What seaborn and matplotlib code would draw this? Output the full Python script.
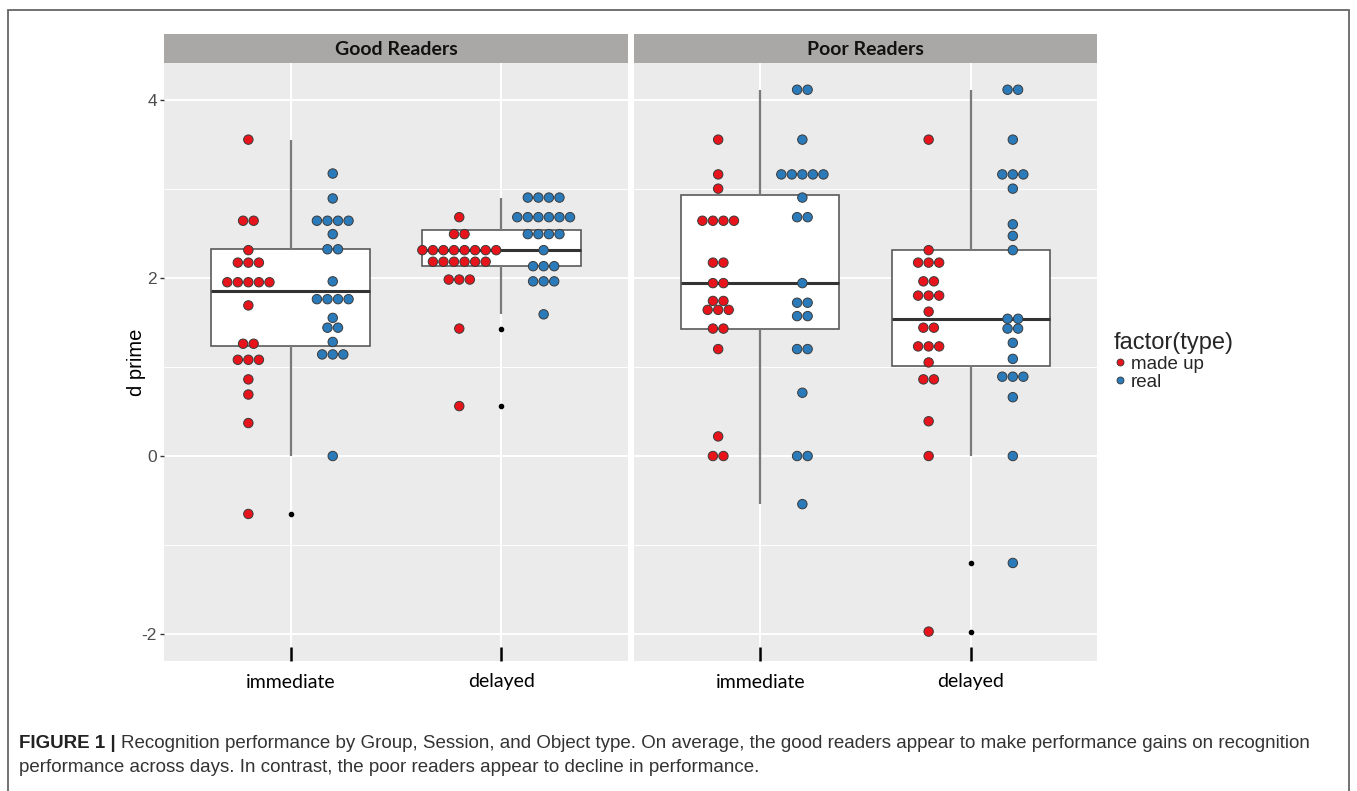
import matplotlib
matplotlib.use("Agg")
import matplotlib.pyplot as plt
import seaborn as sns
import pandas as pd
from collections import Counter
from matplotlib.lines import Line2D
from matplotlib.patches import Rectangle

# Valores de d prime (22 por grupo / sesion / tipo)

good_immediate_madeup = [3.55, 2.64, 2.64, 2.31, 2.17, 2.17, 2.17, 1.95, 1.95, 1.95, 1.95, 1.95,
                         1.69, 1.26, 1.26, 1.08, 1.08, 1.08, 0.86, 0.69, 0.37, -0.65]
good_immediate_real = [3.17, 2.89, 2.64, 2.64, 2.64, 2.64, 2.49, 2.32, 2.32, 1.96, 1.76, 1.76,
                       1.76, 1.76, 1.55, 1.44, 1.44, 1.28, 1.14, 1.14, 1.14, 0.0]
good_delayed_madeup = [2.68, 2.49, 2.49, 2.31, 2.31, 2.31, 2.31, 2.31, 2.31, 2.31, 2.31,
                       2.18, 2.18, 2.18, 2.18, 2.18, 2.18, 1.98, 1.98, 1.98, 1.43, 0.56]
good_delayed_real = [2.90, 2.90, 2.90, 2.90, 2.68, 2.68, 2.68, 2.68, 2.68, 2.68, 2.49, 2.49,
                     2.49, 2.49, 2.31, 2.13, 2.13, 2.13, 1.96, 1.96, 1.96, 1.59]
poor_immediate_madeup = [3.55, 3.16, 3.00, 2.64, 2.64, 2.64, 2.64, 2.17, 2.17, 1.94, 1.94,
                         1.74, 1.74, 1.64, 1.64, 1.64, 1.43, 1.43, 1.20, 0.22, 0.0, 0.0]
poor_immediate_real = [4.11, 4.11, 3.55, 3.16, 3.16, 3.16, 3.16, 3.16, 2.90, 2.68, 2.68,
                       1.94, 1.72, 1.72, 1.57, 1.57, 1.20, 1.20, 0.71, 0.0, 0.0, -0.54]
poor_delayed_madeup = [3.55, 2.31, 2.17, 2.17, 2.17, 1.96, 1.96, 1.80, 1.80, 1.80, 1.62,
                       1.44, 1.44, 1.23, 1.23, 1.23, 1.05, 0.86, 0.86, 0.39, 0.0, -1.97]
poor_delayed_real = [4.11, 4.11, 3.55, 3.16, 3.16, 3.16, 3.00, 2.60, 2.47, 2.31, 1.54, 1.54,
                     1.43, 1.43, 1.27, 1.09, 0.89, 0.89, 0.89, 0.66, 0.0, -1.20]

groups = ["Good Readers", "Poor Readers"]
sessions = ["immediate", "delayed"]
types = ["made up", "real"]

series = {
    ("Good Readers", "immediate", "made up"): good_immediate_madeup,
    ("Good Readers", "immediate", "real"): good_immediate_real,
    ("Good Readers", "delayed", "made up"): good_delayed_madeup,
    ("Good Readers", "delayed", "real"): good_delayed_real,
    ("Poor Readers", "immediate", "made up"): poor_immediate_madeup,
    ("Poor Readers", "immediate", "real"): poor_immediate_real,
    ("Poor Readers", "delayed", "made up"): poor_delayed_madeup,
    ("Poor Readers", "delayed", "real"): poor_delayed_real,
}

DODGE = 0.2      # separacion entre "made up" y "real"
DOT_STEP = 0.05  # separacion horizontal de los puntos apilados


def stack_positions(values, center):
    # apila horizontalmente los valores repetidos, centrados (como un dotplot)
    counts = Counter(values)
    seen = Counter()
    xs = []
    for v in values:
        n = counts[v]
        xs.append(center + (seen[v] - (n - 1) / 2) * DOT_STEP)
        seen[v] += 1
    return xs


rows = []
for (g, s, t), vals in series.items():
    center = sessions.index(s) + (-DODGE if t == "made up" else DODGE)
    for v, x in zip(vals, stack_positions(vals, center)):
        rows.append({"group": g, "session": s, "type": t, "dprime": v, "xpos": x})
df = pd.DataFrame(rows)

palette = {"made up": "#e8141b", "real": "#2b7bba"}

sns.set_style("darkgrid", {"axes.facecolor": "#ebebeb", "grid.color": "white"})
plt.rcParams["font.family"] = ["Liberation Sans", "DejaVu Sans"]
plt.rcParams["axes.unicode_minus"] = False

W, H = 1357, 791
fig = plt.figure(figsize=(W / 100, H / 100), dpi=100)
fig.patch.set_facecolor("white")

# posiciones de los paneles en pixeles (x0, x1)
panel_x = [(164, 628), (634, 1097)]
panel_top, panel_bottom = 63, 661
strip_top = 34

for i, group in enumerate(groups):
    x0, x1 = panel_x[i]
    ax = fig.add_axes([x0 / W, 1 - panel_bottom / H, (x1 - x0) / W, (panel_bottom - panel_top) / H])
    strip = fig.add_axes([x0 / W, 1 - panel_top / H, (x1 - x0) / W, (panel_top - strip_top) / H])

    sub = df[df["group"] == group]

    sns.scatterplot(data=sub, x="xpos", y="dprime", hue="type", hue_order=types,
                    palette=palette, s=46, edgecolor="#3a3a3a", linewidth=0.7,
                    legend=False, ax=ax, zorder=4)
    sns.boxplot(data=sub, x="session", y="dprime", order=sessions, ax=ax,
                color="white", linecolor="#5a5a5a", linewidth=1.2, width=0.75,
                showcaps=False,
                flierprops=dict(marker="o", markersize=3, markerfacecolor="black",
                                markeredgecolor="black"),
                medianprops=dict(color="#333333", linewidth=2.2),
                whiskerprops=dict(color="#7a7a7a", linewidth=1.6))

    ax.set_xlim(-0.6, 1.6)
    ax.set_ylim(-2.3, 4.41)
    ax.set_xticks([0, 1])
    ax.set_xticklabels(sessions, fontfamily="Lato", fontsize=14, color="black")
    ax.set_yticks([-2, 0, 2, 4])
    ax.set_yticks([-1, 1, 3], minor=True)
    ax.grid(which="major", color="white", linewidth=1.4)
    ax.grid(which="minor", color="white", linewidth=0.7)
    ax.set_axisbelow(True)
    for sp in ax.spines.values():
        sp.set_visible(False)
    ax.set_xlabel("")
    ax.tick_params(axis="x", which="major", bottom=True, direction="in", length=10,
                   width=1.8, color="black", pad=9)
    ax.tick_params(axis="x", which="minor", bottom=False)
    if i == 0:
        ax.set_ylabel("d prime", fontsize=14.5, color="black")
        ax.yaxis.set_label_coords(-0.038, 0.5)
        ax.tick_params(axis="y", which="major", length=3, width=1, color="#333333",
                       labelsize=12.5, labelcolor="#4d4d4d", pad=2, left=True)
        ax.tick_params(axis="y", which="minor", left=False)
    else:
        ax.set_ylabel("")
        ax.tick_params(axis="y", which="both", left=False, labelleft=False)

    strip.set_facecolor("#aaa8a7")
    strip.set_xticks([])
    strip.set_yticks([])
    strip.grid(False)
    for sp in strip.spines.values():
        sp.set_visible(False)
    strip.text(0.5, 0.45, group, ha="center", va="center", fontfamily="Lato",
               fontweight="bold", fontsize=14, color="#111111", transform=strip.transAxes)

# leyenda
handles = [Line2D([], [], marker="o", ls="", markersize=5, markerfacecolor=palette[t],
                  markeredgecolor="#333333", markeredgewidth=0.6) for t in types]
leg = fig.legend(handles, types, title="factor(type)", loc="upper left",
                 bbox_to_anchor=(1114 / W, 1 - 332 / H), frameon=False,
                 handlelength=0.6, handletextpad=0.3, labelspacing=0.05,
                 borderaxespad=0, borderpad=0, fontsize=13.5, title_fontsize=17)
leg._legend_box.align = "left"
leg._legend_box.sep = 1

# borde exterior
fig.patches.append(Rectangle((8 / W, -0.02), (1349 - 8) / W, 1.02 - 10 / H,
                             transform=fig.transFigure, fill=False,
                             edgecolor="#666666", linewidth=1.3))

# pie de figura
renderer = fig.canvas.get_renderer()
cap_x = 19 / W
cap_size = 13.5
line1_y = 1 - 744 / H
line2_y = 1 - 768 / H
t_bold = fig.text(cap_x, line1_y, "FIGURE 1 | ", fontweight="bold", fontsize=cap_size,
                  color="#222222", va="center")
bb = t_bold.get_window_extent(renderer)
fig.text(bb.x1 / W, line1_y,
         "Recognition performance by Group, Session, and Object type. On average, "
         "the good readers appear to make performance gains on recognition",
         fontsize=cap_size, color="#333333", va="center")
fig.text(cap_x, line2_y,
         "performance across days. In contrast, the poor readers appear to decline in performance.",
         fontsize=cap_size, color="#333333", va="center")

fig.savefig("out.png", dpi=100)
